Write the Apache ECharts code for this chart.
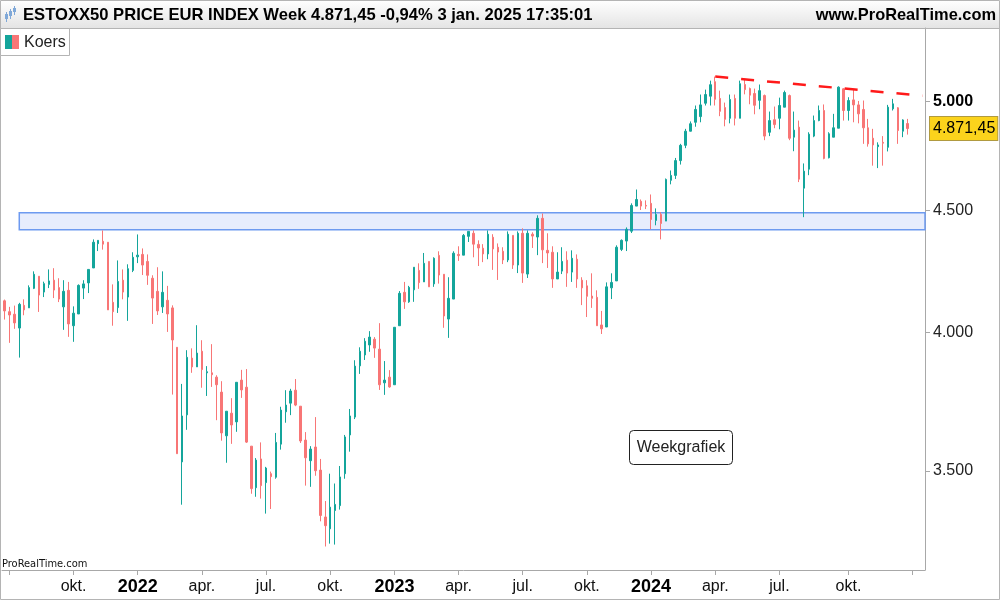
<!DOCTYPE html>
<html><head><meta charset="utf-8">
<script src="https://cdn.jsdelivr.net/npm/echarts@6/dist/echarts.min.js"></script>
<style>html,body{margin:0;padding:0;background:#fff}#c{width:1000px;height:600px}</style>
</head><body><div id="c"></div>
<script>
// ---------- DATA ----------
const titleText = 'ESTOXX50 PRICE EUR INDEX Week 4.871,45 -0,94% 3 jan. 2025 17:35:01';
const siteText = 'www.ProRealTime.com';
const firstWeek = '2021-06-28';   // Monday of first weekly candle
const padWeeks = 3;               // empty weeks at right edge

const opens = [4125,4082,4072,4018,4107,4097,4175,4224,4160,4191,
4208,4178,4101,4167,4027,4073,4176,4197,4258,4359,
4369,4365,4119,4098,4208,4140,4248,4304,4314,4285,
4216,4163,4101,4127,4097,3944,3531,3695,3903,3870,
3929,3848,3848,3832,3777,3621,3701,3670,3821,3795,
3585,3444,3541,3461,3491,3479,3592,3706,3737,3784,
3726,3606,3535,3582,3503,3348,3310,3369,3385,3491,
3624,3687,3874,3915,3953,3975,3937,3811,3832,3804,
4027,4159,4121,4169,4248,4201,4285,4193,4310,4232,
4053,4132,4314,4311,4390,4403,4356,4340,4316,4386,
4344,4327,4291,4394,4270,4403,4233,4399,4387,4467,
4331,4323,4213,4245,4290,4241,4294,4208,4185,4144,
4139,4030,4022,4177,4205,4335,4370,4412,4520,4541,
4523,4532,4458,4484,4455,4634,4656,4723,4793,4859,
4901,4928,4992,5026,5097,5015,4971,4920,5015,4920,
5083,5063,5039,5006,5029,4854,4913,4920,4973,5029,
4831,4878,4599,4684,4836,4909,4957,4736,4831,4873,
5062,4957,5008,4984,4962,4875,4826,4787,4807,4784,
4965,4970,4859,4895];

const closes = [4085,4069,4038,4111,4089,4178,4232,4148,4194,4205,
4168,4132,4163,4034,4076,4187,4193,4252,4365,4373,
4357,4089,4082,4203,4160,4255,4302,4311,4270,4228,
4136,4085,4159,4073,3972,3559,3691,3906,3870,3922,
3860,3852,3841,3804,3631,3708,3659,3813,3785,3599,
3441,3537,3451,3510,3481,3598,3712,3730,3781,3730,
3603,3545,3575,3501,3353,3320,3380,3389,3480,3617,
3691,3873,3929,3967,3983,3941,3804,3821,3796,4021,
4155,4121,4179,4261,4198,4277,4181,4298,4229,4065,
4135,4319,4309,4394,4411,4357,4341,4316,4399,4337,
4324,4291,4399,4270,4403,4237,4403,4391,4467,4333,
4320,4213,4241,4285,4237,4298,4213,4177,4143,4135,
4027,4015,4181,4199,4344,4373,4420,4523,4549,4520,
4520,4462,4484,4445,4638,4656,4723,4793,4859,4894,
4962,4984,5034,5082,5011,4953,4915,5010,4920,5087,
5058,5031,4982,5053,4836,4909,4890,4981,5044,4826,
4864,4639,4675,4845,4909,4957,4733,4847,4875,5070,
4957,5005,4984,4941,4875,4800,4795,4795,4803,4973,
4989,4862,4912,4871.45];

const highs = [4130,4101,4106,4117,4131,4187,4244,4224,4202,4252,
4257,4216,4208,4201,4103,4191,4208,4252,4377,4373,
4415,4365,4191,4289,4252,4273,4323,4398,4339,4314,
4228,4261,4244,4185,4107,3944,3807,3933,3940,4029,
3971,3873,3956,3839,3817,3708,3755,3813,3859,3862,
3585,3544,3598,3514,3498,3631,3724,3784,3789,3825,
3726,3634,3585,3687,3541,3400,3491,3458,3517,3624,
3716,3895,3944,3979,4006,3983,4037,3892,3858,4021,
4164,4201,4185,4261,4277,4320,4285,4302,4327,4232,
4220,4327,4348,4400,4411,4415,4373,4357,4415,4399,
4360,4344,4411,4394,4411,4424,4415,4407,4480,4488,
4403,4348,4323,4344,4327,4331,4314,4220,4208,4236,
4167,4085,4199,4236,4352,4377,4428,4532,4593,4549,
4545,4571,4510,4493,4642,4678,4735,4800,4870,4905,
4981,5034,5058,5102,5122,5053,4995,5034,5034,5102,
5107,5068,5063,5083,5034,4952,4976,5019,5053,5034,
4952,4909,4710,4854,4933,4981,4986,4854,4941,5074,
5065,5021,5058,5003,5005,4917,4870,4807,4836,4984,
5013,4973,4915,4917];

const lows = [4051,3961,4015,3905,4068,4097,4172,4081,4140,4176,
4136,4120,4011,3984,3965,4073,4132,4156,4258,4328,
4334,4089,4027,4077,4131,4046,4241,4278,4229,4189,
4034,4069,4077,4003,3768,3559,3388,3642,3848,3870,
3793,3763,3796,3676,3604,3528,3593,3635,3756,3596,
3424,3414,3408,3359,3374,3474,3573,3667,3694,3726,
3596,3451,3447,3484,3334,3254,3263,3260,3372,3474,
3566,3680,3844,3896,3927,3904,3785,3767,3793,3804,
4027,4093,4117,4121,4173,4201,4181,4181,4194,4019,
3980,4132,4287,4311,4366,4302,4266,4282,4294,4250,
4209,4274,4282,4254,4237,4197,4217,4341,4311,4278,
4258,4177,4213,4233,4181,4201,4177,4108,4061,4097,
4027,3995,4022,4132,4205,4328,4328,4404,4520,4503,
4507,4420,4437,4377,4455,4616,4640,4705,4780,4858,
4880,4901,4981,4981,4981,4930,4882,4896,4886,4920,
5035,4987,4939,4963,4817,4836,4873,4868,4973,4817,
4766,4626,4472,4657,4831,4906,4729,4733,4831,4873,
4909,4909,4901,4896,4800,4787,4700,4689,4700,4765,
4957,4800,4831,4843];

const yTickValues = [3500, 4000, 4500, 5000];
const zoneStartIndex = 3, zoneLow = 4418, zoneHigh = 4491;
const trendStartIndex = 144, trendStartValue = 5122;
const trendEndIndex = 186,   trendEndValue = 5028;
const lastPrice = 4871.45;
const lastPriceLabel = '4.871,45';
const monthNames = {3: 'apr.', 6: 'jul.', 9: 'okt.'};

// ---------- BUILD ----------
const UP = '#14a59b', DOWN = '#f87676';
const cats = [];
(function () {
  const t0 = Date.parse(firstWeek + 'T00:00:00Z');
  for (let i = 0; i < opens.length + padWeeks; i++) {
    const d = new Date(t0 + i * 7 * 86400000);
    cats.push(d.toISOString().slice(0, 10));
  }
})();
const candleData = opens.map((o, i) => [o, closes[i], lows[i], highs[i]]);

function isQuarterStart(value) {
  const d = new Date(value + 'T00:00:00Z');
  return d.getUTCMonth() % 3 === 0 && d.getUTCDate() <= 7;
}
function thousands(v) {
  return String(Math.round(v)).replace(/\B(?=(\d{3})+(?!\d))/g, '.');
}
const FONT = '"Liberation Sans", Arial, sans-serif';

const chart = echarts.init(document.getElementById('c'), null, {renderer: 'canvas'});
chart.setOption({
  animation: false,
  backgroundColor: '#ffffff',
  title: [
    {text: titleText, left: 23, top: 7, padding: 0,
     textStyle: {fontFamily: FONT, fontSize: 16.6, fontWeight: 'bold', color: '#000', lineHeight: 17}},
    {text: siteText, right: 4, top: 7, padding: 0,
     textStyle: {fontFamily: FONT, fontSize: 16.4, fontWeight: 'bold', color: '#000', lineHeight: 17}}
  ],
  grid: {left: 2, right: 75, top: 28, bottom: 30, containLabel: false, outerBoundsMode: 'none'},
  xAxis: {
    type: 'category',
    data: cats,
    boundaryGap: true,
    axisLine: {onZero: false, lineStyle: {color: '#a8a8a8', width: 1}},
    axisTick: {show: true, alignWithLabel: true, length: 5, lineStyle: {color: '#a8a8a8'},
      interval: (idx, val) => idx >= 1 && isQuarterStart(val)},
    axisLabel: {
      margin: 8, color: '#111', fontFamily: FONT, fontSize: 16, lineHeight: 18,
      interval: (idx, val) => idx >= 4 && idx < opens.length && isQuarterStart(val),
      formatter: (val) => {
        const d = new Date(val + 'T00:00:00Z');
        const m = d.getUTCMonth();
        if (m === 0) return '{y|' + d.getUTCFullYear() + '}';
        return monthNames[m] || '';
      },
      rich: {y: {fontFamily: FONT, fontSize: 18, fontWeight: 'bold', color: '#000', lineHeight: 18}}
    },
    splitLine: {show: false}
  },
  yAxis: {
    type: 'log',
    logBase: 10,
    position: 'right',
    min: 3181,
    max: 5368,
    axisLine: {show: true, lineStyle: {color: '#a8a8a8', width: 1}},
    axisTick: {show: true, length: 5, lineStyle: {color: '#a8a8a8'}, customValues: yTickValues},
    axisLabel: {
      margin: 8, color: '#222', fontFamily: FONT, fontSize: 16,
      customValues: yTickValues,
      formatter: (v) => {
        const s = thousands(v);
        return Math.round(v) === 5000 ? '{b|' + s + '}' : s;
      },
      rich: {b: {fontFamily: FONT, fontSize: 16, fontWeight: 'bold', color: '#000'}}
    },
    splitLine: {show: false},
    minorTick: {show: false}
  },
  graphic: {elements: [
    {type: 'rect', z: -10, shape: {x: 0, y: 0, width: 1000, height: 28},
     style: {fill: new echarts.graphic.LinearGradient(0, 0, 0, 1,
       [{offset: 0, color: '#ffffff'}, {offset: 1, color: '#e4e4e4'}])}},
    {type: 'line', z: 60, shape: {x1: 0, y1: 28.5, x2: 1000, y2: 28.5}, style: {stroke: '#b4b4b4', lineWidth: 1}},
    {type: 'rect', z: 60, shape: {x: 0.5, y: 0.5, width: 999, height: 599}, style: {fill: 'none', stroke: '#b4b4b4', lineWidth: 1}},
    // title icon
    {type: 'line', z: 60, shape: {x1: 6.5, y1: 12, x2: 6.5, y2: 22}, style: {stroke: '#7fa8d8', lineWidth: 1}},
    {type: 'rect', z: 60, shape: {x: 5, y: 14, width: 3, height: 5}, style: {fill: '#7fa8d8'}},
    {type: 'line', z: 60, shape: {x1: 10.5, y1: 9, x2: 10.5, y2: 19}, style: {stroke: '#7fa8d8', lineWidth: 1}},
    {type: 'rect', z: 60, shape: {x: 9, y: 11, width: 3, height: 5}, style: {fill: '#7fa8d8'}},
    {type: 'line', z: 60, shape: {x1: 14.5, y1: 6, x2: 14.5, y2: 15}, style: {stroke: '#7fa8d8', lineWidth: 1}},
    {type: 'rect', z: 60, shape: {x: 13, y: 8, width: 3, height: 4}, style: {fill: '#7fa8d8'}},
    // legend box
    {type: 'rect', z: 60, shape: {x: 0.5, y: 28.5, width: 69, height: 27}, style: {fill: '#ffffff', stroke: '#b4b4b4', lineWidth: 1}},
    {type: 'rect', z: 61, shape: {x: 5, y: 35, width: 7, height: 14}, style: {fill: UP}},
    {type: 'rect', z: 61, shape: {x: 12, y: 35, width: 7, height: 14}, style: {fill: DOWN}},
    {type: 'text', z: 61, style: {text: 'Koers', x: 24, y: 42.5, font: '16px ' + FONT, fill: '#222',
      verticalAlign: 'middle', textVerticalAlign: 'middle'}},
    // Weekgrafiek box
    {type: 'rect', z: 60, shape: {x: 629.5, y: 430.5, width: 103, height: 34, r: 4}, style: {fill: '#ffffff', stroke: '#222', lineWidth: 1}},
    {type: 'text', z: 61, style: {text: 'Weekgrafiek', x: 681, y: 448, font: '16px ' + FONT, fill: '#222',
      align: 'center', textAlign: 'center', verticalAlign: 'middle', textVerticalAlign: 'middle'}},
    {type: 'text', z: 61, style: {text: 'ProRealTime.com', x: 2, y: 564, font: '11px "Liberation Sans Narrow", "DejaVu Sans Condensed", sans-serif', fill: '#111',
      verticalAlign: 'middle', textVerticalAlign: 'middle'}}
  ]},
  series: [{
    type: 'candlestick',
    data: candleData,
    barWidth: 2,
    itemStyle: {color: UP, color0: DOWN, borderColor: UP, borderColor0: DOWN, borderWidth: 1},
    markArea: {
      silent: true,
      itemStyle: {color: '#e7edfd', borderColor: '#6d9af0', borderWidth: 1.5},
      data: [[{xAxis: cats[zoneStartIndex], yAxis: zoneHigh}, {yAxis: zoneLow}]]
    },
    markLine: {
      silent: true,
      symbol: ['none', 'none'],
      data: [
        [{coord: [cats[trendStartIndex], trendStartValue], lineStyle: {color: '#ff1a1a', width: 2.5, type: [13, 13]}, label: {show: false}},
         {coord: [cats[trendEndIndex], trendEndValue]}],
        {yAxis: lastPrice, lineStyle: {color: 'rgba(0,0,0,0)', width: 0},
         label: {show: true, position: 'end', distance: 5, formatter: lastPriceLabel,
           color: '#000', fontFamily: FONT, fontSize: 16,
           backgroundColor: '#fbd31c', borderColor: '#b09a40', borderWidth: 1,
           padding: [4, 2, 3, 3]}}
      ]
    }
  }]
});
</script>
</body></html>
